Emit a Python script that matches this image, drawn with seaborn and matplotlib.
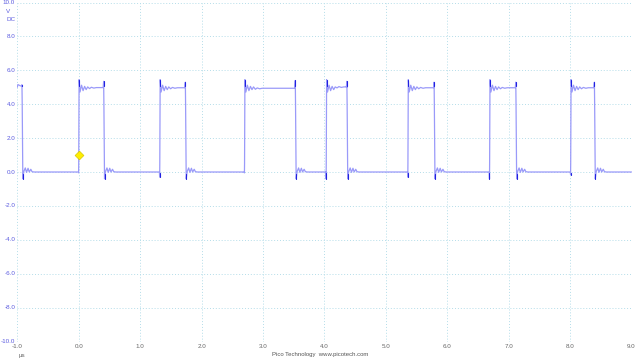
import numpy as np
import pandas as pd
import matplotlib
matplotlib.use("Agg")
import matplotlib.pyplot as plt
import seaborn as sns

# ---- values ----
x_ticks = [-1.0, 0.0, 1.0, 2.0, 3.0, 4.0, 5.0, 6.0, 7.0, 8.0, 9.0]
y_ticks = [-10.0, -8.0, -6.0, -4.0, -2.0, 0.0, 2.0, 4.0, 6.0, 8.0, 10.0]
x_tick_labels = ["-1.0", "0.0", "1.0", "2.0", "3.0", "4.0", "5.0", "6.0", "7.0", "8.0", "9.0"]
y_tick_labels = ["-10.0", "-8.0", "-6.0", "-4.0", "-2.0", "0.0", "2.0", "4.0", "6.0", "8.0", "10.0"]

# edge times (µs)
rise_times = [0.00, 1.32, 2.70, 4.03, 5.36, 6.69, 8.01]
fall_times = [-0.92, 0.41, 1.74, 3.53, 4.37, 5.79, 7.12, 8.40]
# flat top level of each pulse (first entry = pulse already high at start)
high_levels = [5.08, 4.98, 4.97, 4.94, 5.02, 4.97, 4.97, 4.97]
# dip just before each rise
rise_dips = [-0.05, -0.30, -0.05, -0.40, -0.30, -0.40, -0.15]
# spike at end of each pulse just before fall
fall_spikes = [5.15, 5.35, 5.30, 5.40, 5.35, 5.30, 5.30, 5.30]

# ringing after a rising edge: offsets (µs) and voltages
rise_ring_dt = [0.000, 0.015, 0.040, 0.065, 0.090, 0.115, 0.140, 0.170, 0.200, 0.240, 0.280]
rise_ring_v = [5.45, 4.72, 5.12, 4.80, 5.05, 4.86, 5.02, 4.90, 4.98, 4.93, 4.96]
# ringing after a falling edge
fall_ring_dt = [0.000, 0.015, 0.040, 0.060, 0.085, 0.105, 0.130, 0.150, 0.180]
fall_ring_v = [-0.40, 0.02, 0.24, -0.02, 0.22, 0.00, 0.16, 0.02, 0.00]

trigger_t, trigger_v = 0.0, 1.0
t_start, t_end = -1.0, 9.0

# ---- assemble the trace from the read values ----
ts, vs = [], []
ts += [t_start, t_start + 0.01, t_start + 0.05]
vs += [5.0, high_levels[0] + 0.08, high_levels[0]]
events = sorted([(t, "f", i) for i, t in enumerate(fall_times)] +
                [(t, "r", i) for i, t in enumerate(rise_times)])
pulse = 0
for t, kind, i in events:
    if kind == "f":
        ts += [t - 0.012, t - 0.004, t, t + 0.005, t + 0.010]
        vs += [high_levels[pulse], fall_spikes[pulse], 4.0, 1.5, fall_ring_v[0]]
        for dt, v in zip(fall_ring_dt[1:], fall_ring_v[1:]):
            ts.append(t + 0.010 + dt)
            vs.append(v)
    else:
        pulse += 1
        lvl = high_levels[pulse]
        ts += [t - 0.006, t - 0.002, t, t + 0.004]
        vs += [0.0, rise_dips[i], 0.5, 4.3]
        for dt, v in zip(rise_ring_dt, rise_ring_v):
            ts.append(t + 0.006 + dt)
            vs.append(v + (lvl - 4.96) * (dt > 0.15))
        ts.append(t + 0.34)
        vs.append(lvl)
ts.append(t_end)
vs.append(0.0)
trace = pd.DataFrame({"time": ts, "volts": vs})

# dark spikes at the edges
spikes = []
for j, t in enumerate(rise_times):
    spikes.append(pd.DataFrame({"time": [t + 0.006, t + 0.006], "volts": [5.05, 5.45], "seg": f"r{j}"}))
    spikes.append(pd.DataFrame({"time": [t - 0.002, t - 0.002], "volts": [-0.05, rise_dips[j]], "seg": f"d{j}"}))
for j, t in enumerate(fall_times):
    spikes.append(pd.DataFrame({"time": [t - 0.004, t - 0.004], "volts": [5.05, fall_spikes[j]], "seg": f"s{j}"}))
    spikes.append(pd.DataFrame({"time": [t + 0.010, t + 0.010], "volts": [-0.1, -0.40], "seg": f"u{j}"}))
spikes = pd.concat(spikes, ignore_index=True)

# ---- drawing ----
sns.set_theme(style="white")
plt.rcParams["font.family"] = ["Liberation Sans", "DejaVu Sans"]
fig = plt.figure(figsize=(6.4, 3.6), dpi=100)
ax = fig.add_axes([17.3 / 640, 1 - 341.5 / 360, (631.5 - 17.3) / 640, (341.5 - 2.5) / 360])

sns.lineplot(data=trace, x="time", y="volts", sort=False, estimator=None,
             color="#9a9af9", linewidth=0.9, ax=ax, zorder=3)
sns.lineplot(data=spikes, x="time", y="volts", units="seg", sort=False, estimator=None,
             color="#2020e0", linewidth=0.8, ax=ax, zorder=4)
sns.scatterplot(x=[trigger_t], y=[trigger_v], marker="D", s=20, color="#ffee00",
                edgecolor="#d8c800", linewidth=0.5, ax=ax, zorder=5)

ax.set_xlim(t_start, t_end)
ax.set_ylim(-10.0, 10.0)
ax.set_xticks(x_ticks)
ax.set_yticks(y_ticks)
ax.set_xticklabels([])
ax.set_yticklabels([])
ax.tick_params(length=0)
ax.grid(True, color="#b4dde9", linestyle=(0, (1.0, 2.0)), linewidth=0.7)
for s in ax.spines.values():
    s.set_visible(False)
ax.set_xlabel("")
ax.set_ylabel("")
ax.set_facecolor("white")

for v, lab in zip(y_ticks, y_tick_labels):
    ax.annotate(lab, xy=(0, v), xycoords=("axes fraction", "data"), xytext=(-1.5, 0),
                textcoords="offset points", ha="right", va="center",
                fontsize=4.5, color="#5b5be0")
ax.annotate("V", xy=(0, 1), xycoords="axes fraction", xytext=(-5.3, -6.5),
            textcoords="offset points", ha="right", va="center", fontsize=4.5, color="#5b5be0")
ax.annotate("DC", xy=(0, 1), xycoords="axes fraction", xytext=(-1.5, -12.0),
            textcoords="offset points", ha="right", va="center", fontsize=4.5, color="#5b5be0")
for v, lab in zip(x_ticks, x_tick_labels):
    ax.annotate(lab, xy=(v, 0), xycoords=("data", "axes fraction"), xytext=(0, -3.3),
                textcoords="offset points", ha="center", va="center",
                fontsize=4.5, color="#666666")
fig.text(22 / 640, 1 - 355.5 / 360, "µs", ha="center", va="center", fontsize=4.5, color="#666666")
fig.text(320 / 640, 1 - 354.5 / 360, "Pico Technology  www.picotech.com", ha="center", va="center",
         fontsize=4.3, color="#555555")

fig.savefig("out.png", dpi=100, facecolor="white")
